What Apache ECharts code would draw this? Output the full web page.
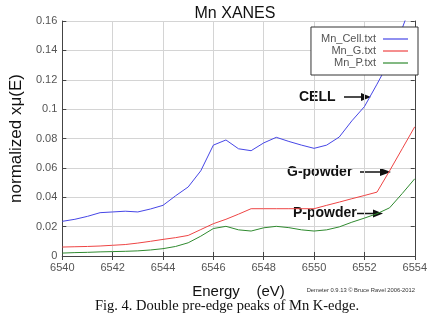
<!DOCTYPE html>
<html>
<head>
<meta charset="utf-8">
<script src="https://cdn.jsdelivr.net/npm/echarts@6/dist/echarts.min.js"></script>
<style>
  html, body { margin: 0; padding: 0; background: #fff; }
  #main { width: 430px; height: 314px; }
</style>
</head>
<body>
<div id="main"></div>
<script>
// energy grid (eV)
var energy = [
  6540, 6540.5, 6541, 6541.5, 6542, 6542.5, 6543, 6543.5, 6544, 6544.5,
  6545, 6545.5, 6546, 6546.5, 6547, 6547.5, 6548, 6548.5, 6549, 6549.5,
  6550, 6550.5, 6551, 6551.5, 6552, 6552.5, 6553, 6553.5, 6554
];
var cellData = [
  0.0236, 0.025, 0.027, 0.0295, 0.030, 0.0305, 0.030, 0.032, 0.0345, 0.041,
  0.047, 0.058, 0.0755, 0.079, 0.073, 0.0717, 0.077, 0.0808, 0.078, 0.0755,
  0.0733, 0.0755, 0.081, 0.092, 0.1017, 0.117, 0.133, 0.155, 0.178
];
var gData = [
  0.0061, 0.0063, 0.0065, 0.0068, 0.0073, 0.0078, 0.0088, 0.010, 0.0113, 0.0125,
  0.014, 0.018, 0.022, 0.025, 0.0285, 0.0322, 0.0322, 0.0322, 0.0322, 0.0322,
  0.0322, 0.0345, 0.0367, 0.039, 0.0412, 0.0435, 0.058, 0.073, 0.088
];
var pData = [
  0.002, 0.0023, 0.0025, 0.0028, 0.003, 0.0032, 0.0035, 0.0041, 0.005, 0.0065,
  0.009, 0.0135, 0.0187, 0.0202, 0.0178, 0.017, 0.0192, 0.0202, 0.0193, 0.0178,
  0.017, 0.0178, 0.0198, 0.023, 0.0258, 0.0288, 0.0328, 0.0425, 0.0526
];
var seriesNames = ["Mn_Cell.txt", "Mn_G.txt", "Mn_P.txt"];

function pairs(ys) {
  return energy.map(function (x, i) { return [x, ys[i]]; });
}

var chartDom = document.getElementById("main");
var myChart = echarts.init(chartDom, null, { renderer: "canvas" });

var sans = "'Liberation Sans', Arial, sans-serif";
var frameColor = "#444";
var gridColor = "#d4d4d4";

var option = {
  animation: false,
  color: ["#4646e6", "#ee4444", "#2f8a2f"],
  title: {
    text: "Mn XANES",
    left: 230,
    textAlign: "center",
    top: 1,
    textStyle: { fontFamily: sans, fontSize: 16, fontWeight: "normal", color: "#111" }
  },
  grid: { left: 45, right: 14, top: 21, bottom: 58 },
  legend: {
    data: seriesNames,
    orient: "vertical",
    right: 12,
    top: 27,
    align: "right",
    itemGap: 0,
    itemWidth: 25,
    itemHeight: 1.2,
    icon: "rect",
    padding: [6, 10, 6, 10],
    borderColor: "#333",
    borderWidth: 1,
    backgroundColor: "#fff",
    textStyle: {
      fontFamily: sans,
      fontSize: 11,
      color: "#555",
      lineHeight: 12,
      padding: [0, 2, 0, 0]
    }
  },
  xAxis: [
    {
      type: "value",
      min: 6540,
      max: 6554,
      interval: 2,
      name: "Energy    (eV)",
      nameLocation: "middle",
      nameGap: 28,
      nameTextStyle: { fontFamily: sans, fontSize: 15, color: "#111" },
      axisLine: { show: true, onZero: false, lineStyle: { color: frameColor } },
      axisTick: { show: true, inside: true, length: 4, lineStyle: { color: frameColor } },
      axisLabel: {
        fontFamily: sans, fontSize: 11, color: "#555", margin: 6,
        formatter: function (v) { return String(v); }
      },
      splitLine: { show: true, lineStyle: { color: gridColor } }
    },
    {
      type: "value",
      position: "top",
      min: 6540,
      max: 6554,
      interval: 2,
      axisLine: { show: true, lineStyle: { color: frameColor } },
      axisTick: { show: true, inside: true, length: 4, lineStyle: { color: frameColor } },
      axisLabel: { show: false },
      splitLine: { show: false }
    }
  ],
  yAxis: [
    {
      type: "value",
      min: 0,
      max: 0.16,
      interval: 0.02,
      name: "normalized xμ(E)",
      nameLocation: "middle",
      nameGap: 31,
      nameTextStyle: { fontFamily: sans, fontSize: 17, color: "#111" },
      axisLine: { show: true, lineStyle: { color: frameColor } },
      axisTick: { show: true, inside: true, length: 4, lineStyle: { color: frameColor } },
      axisLabel: { fontFamily: sans, fontSize: 11, color: "#555", margin: 5 },
      splitLine: { show: true, lineStyle: { color: gridColor } }
    },
    {
      type: "value",
      position: "right",
      min: 0,
      max: 0.16,
      interval: 0.02,
      axisLine: { show: true, lineStyle: { color: frameColor } },
      axisTick: { show: true, inside: true, length: 4, lineStyle: { color: frameColor } },
      axisLabel: { show: false },
      splitLine: { show: false }
    }
  ],
  series: [
    { name: seriesNames[0], type: "line", showSymbol: false, clip: true, lineStyle: { width: 1 }, data: pairs(cellData) },
    { name: seriesNames[1], type: "line", showSymbol: false, clip: true, lineStyle: { width: 1 }, data: pairs(gData) },
    { name: seriesNames[2], type: "line", showSymbol: false, clip: true, lineStyle: { width: 1 }, data: pairs(pData) }
  ],
  graphic: [
    // annotations
    { type: "text", x: 299, y: 97, style: { text: "CELL", font: "bold 14px 'Liberation Sans', Arial", fill: "#111", textVerticalAlign: "middle" } },
    { type: "line", shape: { x1: 344, y1: 97, x2: 362, y2: 97 }, style: { stroke: "#111", lineWidth: 1.5 } },
    { type: "polygon", shape: { points: [[361, 93], [371, 97], [361, 101]] }, style: { fill: "#111" } },

    { type: "text", x: 287, y: 172, style: { text: "G-powder", font: "bold 14px 'Liberation Sans', Arial", fill: "#111", textVerticalAlign: "middle" } },
    { type: "line", shape: { x1: 360, y1: 172, x2: 381, y2: 172 }, style: { stroke: "#111", lineWidth: 1.5 } },
    { type: "polygon", shape: { points: [[380, 168], [391, 172], [380, 176]] }, style: { fill: "#111" } },

    { type: "text", x: 293, y: 213.5, style: { text: "P-powder", font: "bold 14px 'Liberation Sans', Arial", fill: "#111", textVerticalAlign: "middle" } },
    { type: "line", shape: { x1: 357, y1: 213.5, x2: 374, y2: 213.5 }, style: { stroke: "#111", lineWidth: 1.5 } },
    { type: "polygon", shape: { points: [[373, 209.5], [383, 213.5], [373, 217.5]] }, style: { fill: "#111" } },

    { type: "text", x: 415, y: 290, style: { text: "Demeter 0.9.13 © Bruce Ravel 2006-2012", font: "5.8px 'Liberation Sans', Arial", fill: "#333", textAlign: "right", textVerticalAlign: "middle" } },
    { type: "text", x: 227, y: 306, style: { text: "Fig. 4. Double pre-edge peaks of Mn K-edge.", font: "14.5px 'Liberation Serif', 'Times New Roman', serif", fill: "#111", textAlign: "center", textVerticalAlign: "middle" } }
  ]
};

myChart.setOption(option);
</script>
</body>
</html>
